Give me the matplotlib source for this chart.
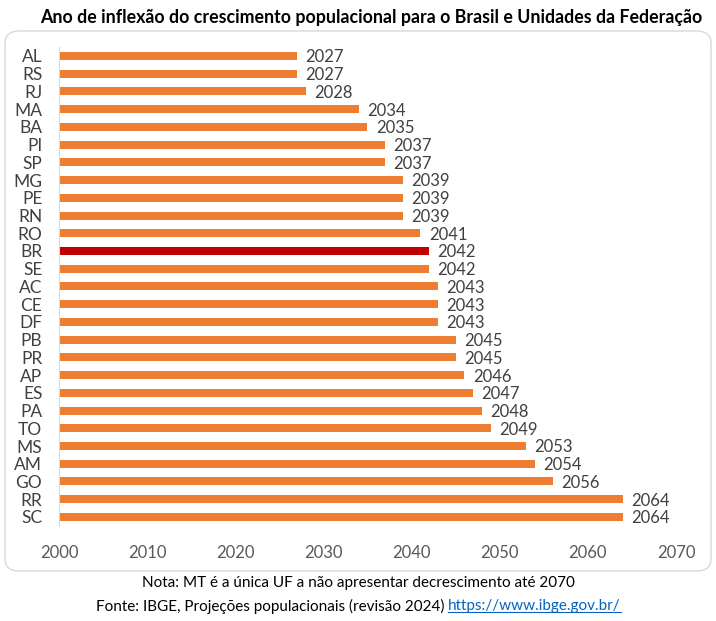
import matplotlib.pyplot as plt
from matplotlib.patches import FancyBboxPatch
import numpy as np

plt.rcParams['font.family'] = ['Lato', 'DejaVu Sans']

ufs = ["AL", "RS", "RJ", "MA", "BA", "PI", "SP", "MG", "PE", "RN", "RO", "BR", "SE", "AC",
       "CE", "DF", "PB", "PR", "AP", "ES", "PA", "TO", "MS", "AM", "GO", "RR", "SC"]
anos = [2027, 2027, 2028, 2034, 2035, 2037, 2037, 2039, 2039, 2039, 2041, 2042, 2042, 2043,
        2043, 2043, 2045, 2045, 2046, 2047, 2048, 2049, 2053, 2054, 2056, 2064, 2064]
x_ticks = [2000, 2010, 2020, 2030, 2040, 2050, 2060, 2070]

titulo = "Ano de inflexão do crescimento populacional para o Brasil e Unidades da Federação"
nota = "Nota: MT é a única UF a não apresentar decrescimento até 2070"
fonte = "Fonte: IBGE, Projeções populacionais (revisão 2024) "
link = "https://www.ibge.gov.br/"

laranja = "#ED7D31"
vermelho = "#C00000"
cinza_txt = "#404040"

W, H = 716, 621
fig = plt.figure(figsize=(W / 100, H / 100), dpi=100)

# moldura arredondada
box = FancyBboxPatch((5 / W, 1 - 571 / H), 706 / W, 540 / H,
                     boxstyle="round,pad=0,rounding_size=0.02",
                     transform=fig.transFigure, facecolor="white",
                     edgecolor="#D9D9D9", linewidth=1.0, zorder=0)
fig.patches.append(box)

ax = fig.add_axes([59 / W, 1 - 525.8 / H, 617 / W, 478.7 / H])
ax.set_zorder(2)
ax.set_facecolor("none")

y = np.arange(len(ufs))
cores = [vermelho if uf == "BR" else laranja for uf in ufs]
ax.barh(y, np.array(anos) - 2000, left=2000, height=0.45, color=cores)

for yi, ano in zip(y, anos):
    ax.text(ano + 0.95, yi + 0.08, str(ano), va="center", ha="left",
            fontsize=12, color=cinza_txt)

ax.set_xlim(2000, 2070)
ax.set_ylim(len(ufs) - 0.5, -0.5)
ax.set_yticks(y)
ax.set_yticklabels(ufs, fontsize=12.5, color=cinza_txt)
ax.set_xticks(x_ticks)
ax.set_xticklabels([str(t) for t in x_ticks], fontsize=12, color="#595959")
ax.tick_params(axis="both", length=0)
ax.tick_params(axis="x", pad=14)
ax.tick_params(axis="y", pad=12)
for s in ["top", "right", "bottom"]:
    ax.spines[s].set_visible(False)
ax.spines["left"].set_color("#D9D9D9")

fig.text(371 / W, 1 - 17 / H, titulo, ha="center", va="center",
         fontsize=12.8, fontweight="bold", color="black")
fig.text(0.5, 1 - 583 / H, nota, ha="center", va="center", fontsize=11, color="black")

# linha da fonte: texto preto + link azul sublinhado
t1 = fig.text(0.5, 1 - 606 / H, fonte, ha="left", va="center", fontsize=11, color="black")
t2 = fig.text(0.5, 1 - 606 / H, link, ha="left", va="center", fontsize=11, color="#0563C1")
fig.canvas.draw()
r = fig.canvas.get_renderer()
w1 = t1.get_window_extent(r).width
w2 = t2.get_window_extent(r).width
start = W / 2 - (w1 + w2) / 2
t1.set_x(start / W)
t2.set_x((start + w1) / W)
fig.canvas.draw()
bb = t2.get_window_extent(r)
uy = (bb.y0 + 1) / H
fig.add_artist(plt.Line2D([bb.x0 / W, bb.x1 / W], [uy, uy],
                          transform=fig.transFigure, color="#0563C1", linewidth=0.8))

fig.savefig("out.png", dpi=100)
